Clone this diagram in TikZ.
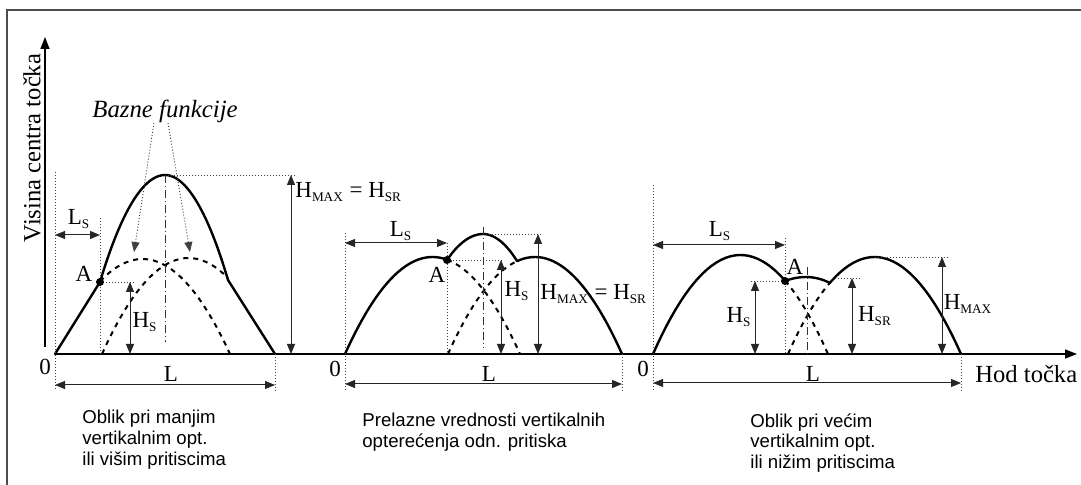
\documentclass[tikz,border=0pt]{standalone}
\usepackage{fontspec}
\setmainfont{Liberation Serif}
\setsansfont{Liberation Sans}
\usetikzlibrary{arrows.meta}

\newcommand{\lowsub}[1]{\textsubscript{\fontsize{6.6}{7}\selectfont #1}}

\tikzset{
  lbl/.style={font=\fontsize{11.5}{13}\selectfont, inner sep=0pt, anchor=base},
  curve/.style={line width=1.2pt, line cap=round},
  basis/.style={line width=1pt, dash pattern=on 2.5pt off 2.5pt},
  guide/.style={black!75, line width=0.45pt, dash pattern=on 0.5pt off 1pt},
  dim/.style={black!85, line width=0.5pt, {Triangle[length=5pt,width=4pt]}-{Triangle[length=5pt,width=4pt]}},
  axis/.style={line width=0.7pt, -{Triangle[length=6pt,width=4.5pt]}},
  centre/.style={black!80, line width=0.4pt, dash pattern=on 4pt off 1.5pt on 0.5pt off 1.5pt},
  caption/.style={font=\sffamily\fontsize{9.3}{10.4}\selectfont, align=left, anchor=north west, inner sep=0pt},
}

\begin{document}
\begin{tikzpicture}[x=0.5pt,y=-0.5pt,
  declare function={bump(\x,\c,\w,\h)=354-\h*(1-((\x-\c)/\w)^2);}]
\useasboundingbox (0,0) rectangle (1081,485);
\fill[white] (0,0) rectangle (1081,485);
\draw[black!70, line width=1pt] (7,485) -- (7,10) -- (1081,10);

% axes
\coordinate (O1) at (55,354);
\coordinate (yb) at (45,347);
\coordinate (yt) at (45,37);
\coordinate (xt) at (1077,354);
\draw[axis] (yb) -- (yt);
\draw[axis] (O1) -- (xt);
\node[font=\fontsize{12.3}{14}\selectfont, rotate=90] (ylab) at (32,148) {Visina centra točka};
\node[lbl, anchor=base west, font=\fontsize{12.3}{14}\selectfont] (xlab) at (975,383) {Hod točka};

% --- left panel
\coordinate (A1) at (100,282);
\coordinate (P1) at (165,175);
\coordinate (K1) at (228,280);
\coordinate (E1) at (275,354);
\coordinate (r1) at (0,385);
\coordinate (s1) at (0,235);
\coordinate (h1) at (130,354);
\coordinate (m1) at (291,354);
\draw[basis] plot[domain=100:230, samples=30] (\x,{bump(\x,142.5,87.5,95)});
\draw[basis] plot[domain=102:228, samples=30] (\x,{bump(\x,188.5,86.5,96)});
\draw[curve] (O1) -- (A1) parabola bend (P1) (K1) -- (E1);
\draw[guide] (O1 |- 0,172) -- (O1 |- 0,391);
\draw[guide] (E1) -- (E1 |- 0,391);
\draw[guide] (A1 |- 0,218) -- (A1 |- O1);
\draw[guide] (A1) -- (135,282);
\draw[guide] (P1) -- (297,175);
\draw[centre] (P1) -- (165,342);
\draw[dim] (O1 |- r1) -- (E1 |- r1);
\draw[dim] (O1 |- s1) -- (A1 |- s1);
\draw[dim] (A1 -| h1) -- (h1);
\draw[dim] (P1 -| m1) -- (m1);
\fill (A1) circle (2pt);
\node[lbl] (zero1) at (45,375) {0};
\node[lbl] (len1) at (171,382) {L};
\node[lbl] (ls1) at (79,225) {L\lowsub{S}};
\node[lbl] (a1) at (84,282) {A};
\node[lbl] (hs1) at (145,328) {H\lowsub{S}};
\node[lbl, anchor=base west] (hm1) at (295,198) {H\lowsub{MAX} = H\lowsub{SR}};
\node[lbl, font=\itshape\fontsize{12.4}{14}\selectfont] (baz) at (165,118) {Bazne funkcije};
\coordinate (t1) at (154,123);
\coordinate (t2) at (168,123);
\coordinate (b1) at (134,252);
\coordinate (b2) at (190,252);
\draw[guide, -{Triangle[length=5pt,width=4pt]}] (t1) -- (b1);
\draw[guide, -{Triangle[length=5pt,width=4pt]}] (t2) -- (b2);
\node[caption] (cap1) at (82,410) {Oblik pri manjim\\vertikalnim opt.\\ili višim pritiscima};

% --- middle panel
\coordinate (O2) at (345,354);
\coordinate (A2) at (447,260);
\coordinate (P2) at (483,234);
\coordinate (K2) at (517,261);
\coordinate (E2) at (622,354);
\coordinate (r2) at (0,384);
\coordinate (s2) at (0,243);
\coordinate (h2) at (501,354);
\coordinate (m2) at (538,354);
\draw[basis] plot[domain=447:520, samples=20] (\x,{bump(\x,432.5,87.5,97)});
\draw[basis] plot[domain=448:517, samples=20] (\x,{bump(\x,535,87,97)});
\draw[curve] plot[domain=345:447, samples=30] (\x,{bump(\x,432.5,87.5,97)});
\draw[curve] (A2) parabola bend (P2) (K2);
\draw[curve] plot[domain=517:622, samples=30] (\x,{bump(\x,535,87,97)});
\draw[guide] (O2 |- 0,233) -- (O2 |- 0,391);
\draw[guide] (E2) -- (E2 |- 0,391);
\draw[guide] (A2 |- s2) -- (A2 |- O2);
\draw[guide] (A2) -- (503,260);
\draw[guide] (P2) -- (542,234);
\draw[centre] (483,227) -- (483,348);
\draw[dim] (O2 |- r2) -- (E2 |- r2);
\draw[dim] (O2 |- s2) -- (A2 |- s2);
\draw[dim] (A2 -| h2) -- (h2);
\draw[dim] (P2 -| m2) -- (m2);
\fill (A2) circle (2pt);
\node[lbl] (zero2) at (335,377) {0};
\node[lbl] (len2) at (489,382) {L};
\node[lbl] (ls2) at (401,237) {L\lowsub{S}};
\node[lbl] (a2) at (437,283) {A};
\node[lbl] (hs2) at (517,297) {H\lowsub{S}};
\node[lbl, anchor=base west] (hm2) at (540,300) {H\lowsub{MAX} = H\lowsub{SR}};
\node[caption] (cap2) at (362,413) {Prelazne vrednosti vertikalnih\\opterećenja odn. pritiska};

% --- right panel
\coordinate (O3) at (653,354);
\coordinate (A3) at (785,281);
\coordinate (P3) at (806,277);
\coordinate (K3) at (830,283);
\coordinate (T3) at (874.5,257);
\coordinate (E3) at (961,354);
\coordinate (r3) at (0,383);
\coordinate (s3) at (0,245);
\coordinate (h3) at (755,354);
\coordinate (q3) at (852,354);
\coordinate (m3) at (942,354);
\draw[basis] plot[domain=785:828, samples=15] (\x,{bump(\x,740.5,87.5,99)});
\draw[basis] plot[domain=788:830, samples=15] (\x,{bump(\x,874.5,86.5,97)});
\draw[curve] plot[domain=653:785, samples=30] (\x,{bump(\x,740.5,87.5,99)});
\draw[curve] (A3) parabola bend (P3) (K3);
\draw[curve] plot[domain=830:961, samples=30] (\x,{bump(\x,874.5,86.5,97)});
\draw[guide] (O3 |- 0,185) -- (O3 |- 0,391);
\draw[guide] (E3) -- (E3 |- 0,391);
\draw[guide] (A3 |- 0,238) -- (A3 |- O3);
\draw[guide] (A3) -- (750,281);
\draw[guide] (832,278) -- (860,278);
\draw[guide] (T3) -- (947,257);
\draw[centre] (807,267) -- (807,354);
\draw[dim] (O3 |- r3) -- (E3 |- r3);
\draw[dim] (O3 |- s3) -- (A3 |- s3);
\draw[dim] (A3 -| h3) -- (h3);
\draw[dim] (q3 |- 0,278) -- (q3);
\draw[dim] (T3 -| m3) -- (m3);
\fill (A3) circle (2pt);
\node[lbl] (zero3) at (643,377) {0};
\node[lbl] (len3) at (813,382) {L};
\node[lbl] (ls3) at (720,237) {L\lowsub{S}};
\node[lbl] (a3) at (795,275) {A};
\node[lbl] (hs3) at (739,323) {H\lowsub{S}};
\node[lbl] (hsr3) at (875,322) {H\lowsub{SR}};
\node[lbl] (hmx3) at (968,310) {H\lowsub{MAX}};
\node[caption] (cap3) at (750,413) {Oblik pri većim\\vertikalnim opt.\\ili nižim pritiscima};
\end{tikzpicture}
\end{document}
